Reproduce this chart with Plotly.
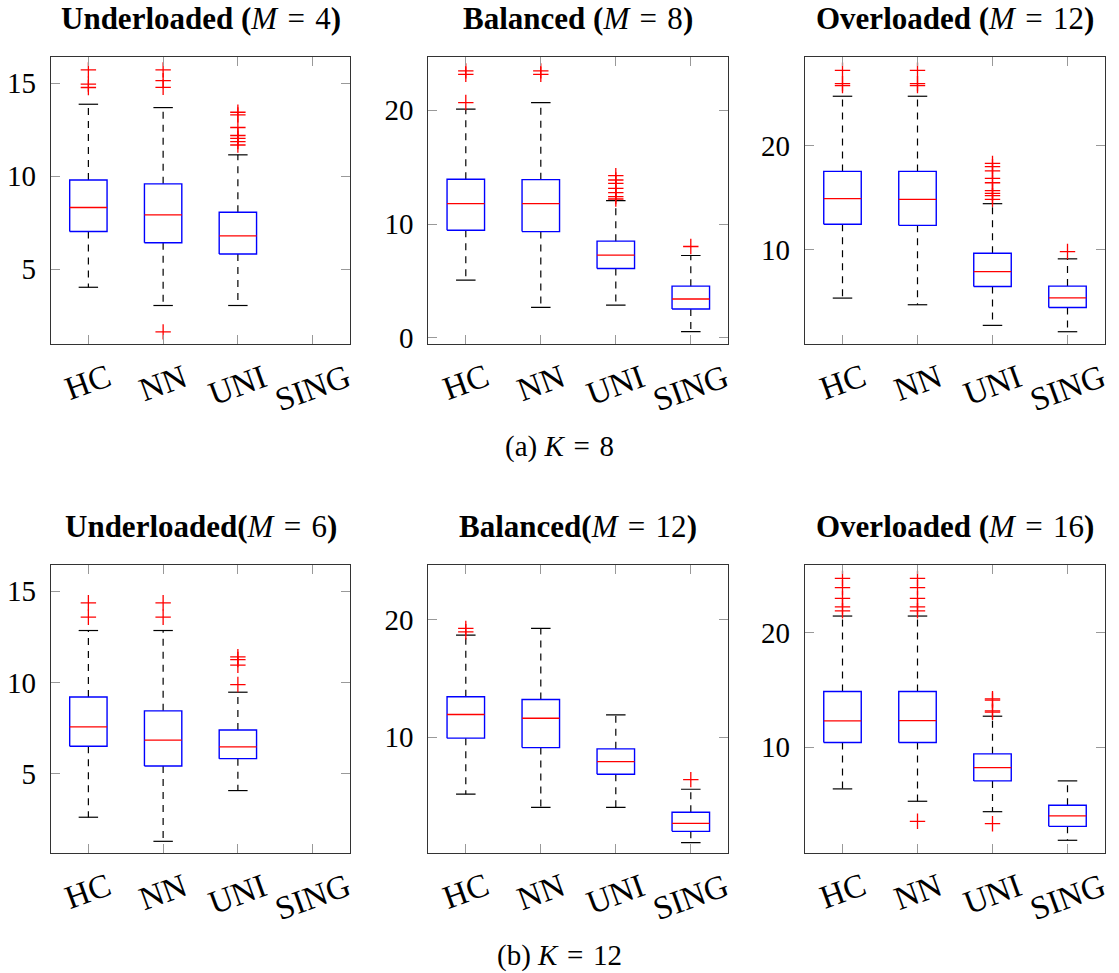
import plotly.graph_objects as go

# ---------------- data ----------------
categories = ["HC", "NN", "UNI", "SING"]

# K = 8, Underloaded (M = 4)
k8u_lower = [4.03, 3.05, 3.05, None]
k8u_q1 = [7.03, 6.42, 5.82, None]
k8u_med = [8.32, 7.92, 6.79, None]
k8u_q3 = [9.80, 9.59, 8.06, None]
k8u_upper = [13.87, 13.69, 11.15, None]
k8u_out = [[15.72, 14.95, 14.77],
           [15.72, 15.14, 14.78, 1.63],
           [13.44, 13.30, 12.62, 12.19, 12.04, 11.86, 11.68],
           []]

# K = 8, Balanced (M = 8)
k8b_lower = [5.08, 2.69, 2.89, 0.55]
k8b_q1 = [9.46, 9.34, 6.10, 2.54]
k8b_med = [11.80, 11.80, 7.27, 3.42]
k8b_q3 = [13.93, 13.90, 8.50, 4.55]
k8b_upper = [20.09, 20.67, 12.06, 7.24]
k8b_out = [[23.45, 23.15, 20.67],
           [23.45, 23.15],
           [14.25, 13.87, 13.58, 13.14, 12.76, 12.41, 12.20],
           [8.03]]

# K = 8, Overloaded (M = 12)
k8o_lower = [5.37, 4.73, 2.75, 2.14]
k8o_q1 = [12.46, 12.36, 6.49, 4.47]
k8o_med = [14.92, 14.86, 7.92, 5.40]
k8o_q3 = [17.54, 17.54, 9.68, 6.52]
k8o_upper = [24.76, 24.76, 14.44, 9.14]
k8o_out = [[27.25, 25.97, 25.78],
           [27.25, 25.97, 25.78],
           [18.31, 17.99, 17.60, 16.87, 16.45, 15.69, 15.43, 15.21, 14.86],
           [9.84]]

# K = 12, Underloaded (M = 6)
k12u_lower = [2.61, 1.29, 4.07, None]
k12u_q1 = [6.50, 5.42, 5.82, None]
k12u_med = [7.56, 6.83, 6.46, None]
k12u_q3 = [9.20, 8.44, 7.39, None]
k12u_upper = [12.84, 12.84, 9.46, None]
k12u_out = [[14.36, 13.57],
            [14.36, 13.57],
            [11.40, 11.25, 10.94, 9.88],
            []]

# K = 12, Balanced (M = 12)
k12b_lower = [5.16, 4.05, 4.05, 1.05]
k12b_q1 = [9.92, 9.12, 6.86, 2.01]
k12b_med = [11.93, 11.61, 7.93, 2.69]
k12b_q3 = [13.43, 13.20, 9.01, 3.63]
k12b_upper = [18.67, 19.24, 11.90, 5.58]
k12b_out = [[19.24, 18.95], [], [], [6.40]]

# K = 12, Overloaded (M = 16)
k12o_lower = [6.36, 5.28, 4.37, 1.87]
k12o_q1 = [10.41, 10.41, 7.06, 3.09]
k12o_med = [12.30, 12.33, 8.22, 4.00]
k12o_q3 = [14.87, 14.87, 9.42, 4.93]
k12o_upper = [21.46, 21.46, 12.71, 7.06]
k12o_out = [[24.75, 23.94, 23.00, 22.27, 21.92],
            [24.75, 23.94, 23.00, 22.27, 21.92, 3.53],
            [14.23, 14.11, 13.18, 13.06, 3.32],
            []]

SP = "\u2004"  # three-per-em space, for math-like spacing around "="
titles = [f"<b>Underloaded (</b><i>M</i>{SP}={SP}4<b>)</b>",
          f"<b>Balanced (</b><i>M</i>{SP}={SP}8<b>)</b>",
          f"<b>Overloaded (</b><i>M</i>{SP}={SP}12<b>)</b>",
          f"<b>Underloaded(</b><i>M</i>{SP}={SP}6<b>)</b>",
          f"<b>Balanced(</b><i>M</i>{SP}={SP}12<b>)</b>",
          f"<b>Overloaded (</b><i>M</i>{SP}={SP}16<b>)</b>"]
captions = [f"(a) <i>K</i>{SP}={SP}8", f"(b) <i>K</i>{SP}={SP}12"]
y_ranges = [[0.98, 16.41], [-0.53, 24.67], [0.96, 28.53],
            [0.65, 16.43], [0.17, 24.62], [0.76, 25.92]]
y_ticks = [[5, 10, 15], [0, 10, 20], [10, 20],
           [5, 10, 15], [10, 20], [10, 20]]

panels = [
    (k8u_lower, k8u_q1, k8u_med, k8u_q3, k8u_upper, k8u_out),
    (k8b_lower, k8b_q1, k8b_med, k8b_q3, k8b_upper, k8b_out),
    (k8o_lower, k8o_q1, k8o_med, k8o_q3, k8o_upper, k8o_out),
    (k12u_lower, k12u_q1, k12u_med, k12u_q3, k12u_upper, k12u_out),
    (k12b_lower, k12b_q1, k12b_med, k12b_q3, k12b_upper, k12b_out),
    (k12o_lower, k12o_q1, k12o_med, k12o_q3, k12o_upper, k12o_out),
]

# ---------------- layout geometry ----------------
W, H = 1119, 973
col_px = [(51, 350), (428.3, 728.3), (805, 1105)]
row_px = [(57, 344), (565, 853)]
title_center_px = [19, 526]
BOX_HALF = 0.25
CAP_HALF = 0.13
FONT = "Liberation Serif"
BLUE = "#0000ff"
RED = "#ff0000"

fig = go.Figure()
layout = dict(width=W, height=H, margin=dict(l=0, r=0, t=0, b=0),
              paper_bgcolor="white", plot_bgcolor="white", showlegend=False)
annotations = []

for p, (lo, q1, med, q3, up, outs) in enumerate(panels):
    r, c = divmod(p, 3)
    idx = p + 1
    xa = "x" if idx == 1 else f"x{idx}"
    ya = "y" if idx == 1 else f"y{idx}"
    xdom = [col_px[c][0] / W, col_px[c][1] / W]
    ydom = [1 - row_px[r][1] / H, 1 - row_px[r][0] / H]

    wx, wy, bx, by, mx, my, cx, cy, ox, oy = ([] for _ in range(10))
    for i in range(len(categories)):
        pos = i + 1
        if q1[i] is not None:
            wx += [pos, pos, None, pos, pos, None]
            wy += [q3[i], up[i], None, q1[i], lo[i], None]
            bx += [pos - BOX_HALF, pos + BOX_HALF, pos + BOX_HALF, pos - BOX_HALF, pos - BOX_HALF, None]
            by += [q1[i], q1[i], q3[i], q3[i], q1[i], None]
            mx += [pos - BOX_HALF, pos + BOX_HALF, None]
            my += [med[i], med[i], None]
            cx += [pos - CAP_HALF, pos + CAP_HALF, None, pos - CAP_HALF, pos + CAP_HALF, None]
            cy += [up[i], up[i], None, lo[i], lo[i], None]
        for v in outs[i]:
            ox.append(pos)
            oy.append(v)

    common = dict(xaxis=xa, yaxis=ya, hoverinfo="skip", showlegend=False)
    fig.add_trace(go.Scatter(x=wx, y=wy, mode="lines",
                             line=dict(color="black", width=1.2, dash="7px,6px"), **common))
    fig.add_trace(go.Scatter(x=cx, y=cy, mode="lines",
                             line=dict(color="black", width=1.2), **common))
    fig.add_trace(go.Scatter(x=bx, y=by, mode="lines",
                             line=dict(color=BLUE, width=1.4), **common))
    fig.add_trace(go.Scatter(x=mx, y=my, mode="lines",
                             line=dict(color=RED, width=1.3), **common))
    fig.add_trace(go.Scatter(x=ox, y=oy, mode="markers",
                             marker=dict(symbol="cross-thin", size=11,
                                         line=dict(color=RED, width=1.3)), **common))

    axis_common = dict(showline=True, linecolor="#333", linewidth=1.2, mirror="allticks",
                       ticks="inside", ticklen=9, tickcolor="#999", tickwidth=1,
                       showgrid=False, zeroline=False, automargin=False)
    layout["xaxis" if idx == 1 else f"xaxis{idx}"] = dict(
        domain=xdom, anchor=ya, range=[0.5, 4.5], tickvals=[1, 2, 3, 4],
        showticklabels=False, fixedrange=True, **axis_common)
    layout["yaxis" if idx == 1 else f"yaxis{idx}"] = dict(
        domain=ydom, anchor=xa, range=y_ranges[p], tickvals=y_ticks[p],
        ticktext=[str(t) for t in y_ticks[p]], ticklabelstandoff=8,
        tickfont=dict(family=FONT, size=29, color="black"), **axis_common)

    # subplot title
    annotations.append(dict(text=titles[p], xref="paper", yref="paper",
                            x=(xdom[0] + xdom[1]) / 2, y=1 - title_center_px[r] / H,
                            xanchor="center", yanchor="middle", showarrow=False,
                            font=dict(family=FONT, size=31, color="black")))
    # rotated category labels
    for i, cat in enumerate(categories):
        annotations.append(dict(text=cat, xref=xa, yref="paper", x=i + 1, y=ydom[0],
                                yshift=-11, xanchor="center", yanchor="top",
                                textangle=-20, showarrow=False,
                                font=dict(family=FONT, size=33, color="black")))

annotations.append(dict(text=captions[0], xref="paper", yref="paper", x=0.5, y=1 - 447 / H,
                        xanchor="center", yanchor="middle", showarrow=False,
                        font=dict(family=FONT, size=29, color="black")))
annotations.append(dict(text=captions[1], xref="paper", yref="paper", x=0.5, y=1 - 955 / H,
                        xanchor="center", yanchor="middle", showarrow=False,
                        font=dict(family=FONT, size=29, color="black")))

layout["annotations"] = annotations
fig.update_layout(**layout)
fig.write_html("out.html")
